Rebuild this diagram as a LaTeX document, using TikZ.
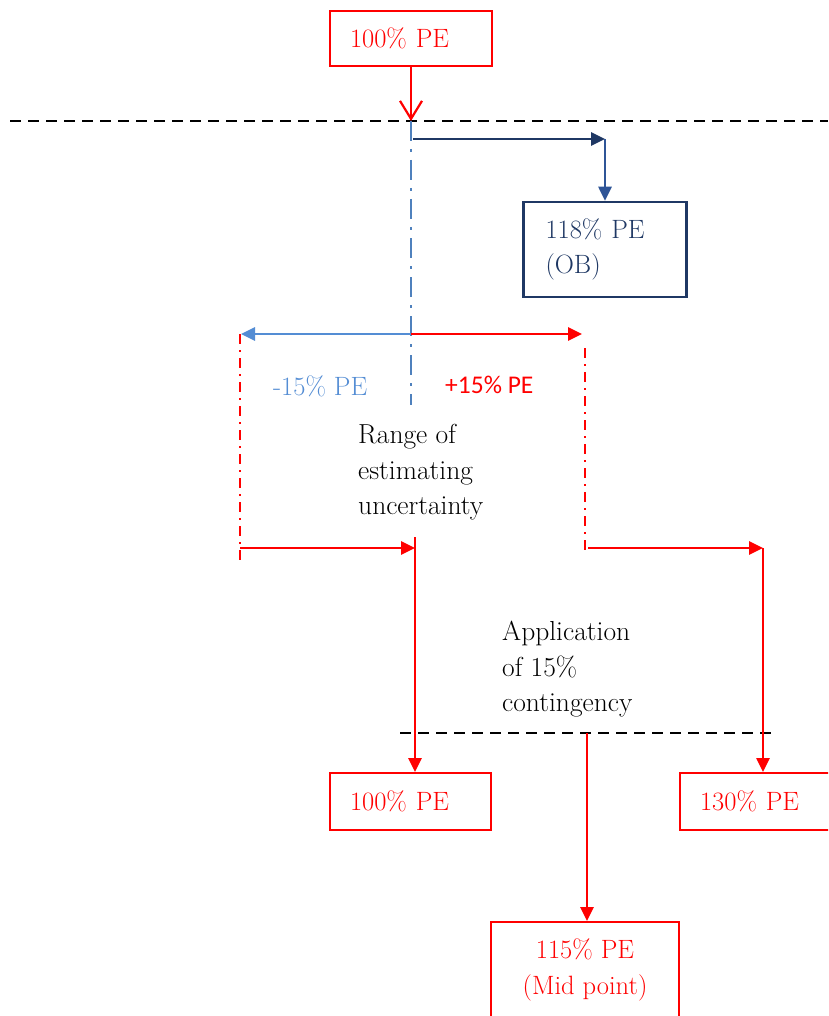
\documentclass[tikz,border=0pt]{standalone}
\usepackage{fontspec}
\newfontfamily\calib{Carlito}
\usetikzlibrary{arrows.meta}
\definecolor{pered}{RGB}{255,0,0}
\definecolor{obnavy}{RGB}{31,56,100}
\definecolor{obblue}{RGB}{47,85,151}
\definecolor{rangeblue}{RGB}{84,141,212}
\definecolor{axisblue}{RGB}{79,129,189}
\tikzset{
  lbl/.style={font=\fontsize{26.5}{35.5}\selectfont, inner sep=0pt},
  note/.style={font=\fontsize{27.5}{35.5}\selectfont, inner sep=0pt, align=left, anchor=north west},
  pebox/.style={draw=pered, line width=2pt, text=pered, lbl, align=left},
  obbox/.style={draw=obnavy, line width=2.5pt, text=obnavy, lbl, align=left},
  tri/.style={-{Triangle[length=14pt,width=13pt]}},
  redarrow/.style={draw=pered, line width=2.6pt, tri},
  guide/.style={draw=black, line width=2.5pt, dash pattern=on 11pt off 7pt},
  axis/.style={draw=axisblue, line width=2pt, dash pattern=on 20pt off 8pt on 3pt off 8pt},
  bound/.style={draw=pered, line width=1.5pt, dash pattern=on 10pt off 6pt on 2pt off 6pt},
}
\begin{document}
\begin{tikzpicture}[x=1pt,y=-1pt]
\path[use as bounding box, fill=white] (0,0) rectangle (828,1016);
\clip (0,0) rectangle (828,1016);

% boxes
\node[pebox, text width=122pt, inner xsep=20pt, minimum height=55pt] (start) at (411,38.5) {100\% PE};
\node[obbox, text width=119pt, inner xsep=22pt, minimum height=95pt] (ob) at (605,249.5) {118\% PE\\(OB)};
\node[pebox, text width=121pt, inner xsep=20pt, minimum height=57pt] (low) at (410.5,801.5) {100\% PE};
\node[pebox, text width=130pt, inner xsep=20pt, minimum height=57pt] (high) at (765,801.5) {130\% PE};
\node[pebox, align=center, minimum width=188pt, minimum height=96pt] (mid) at (585,970) {115\% PE\\(Mid point)};

% free labels
\node[lbl, text=rangeblue, anchor=base west] (minus) at (273,395) {-15\% PE};
\node[inner sep=0pt, text=pered, anchor=base west, font=\calib\fontsize{25.5}{30}\selectfont] (plus) at (445,393) {+15\% PE};
\node[note] (range) at (358,424) {Range of\\estimating\\uncertainty};
\node[note] (cont) at (502,621) {Application\\of 15\%\\contingency};

% reference points
\coordinate (split) at (411,121);
\coordinate (g1a) at (10,121);
\coordinate (g1b) at (828,121);
\coordinate (axisend) at (411,405);
\coordinate (obstart) at (413,139);
\coordinate (obturn) at (605,139);
\coordinate (rc) at (411,334);
\coordinate (rl) at (241,334);
\coordinate (rr) at (582,334);
\coordinate (bl1) at (240,334);
\coordinate (bl2) at (240,560);
\coordinate (br1) at (585,348);
\coordinate (br2) at (585,552);
\coordinate (la) at (240,548);
\coordinate (lb) at (415,548);
\coordinate (lv) at (415,537);
\coordinate (ra) at (588,548);
\coordinate (rb) at (763,548);
\coordinate (g2a) at (400,733);
\coordinate (g2b) at (775,733);
\coordinate (mv) at (587,733);

% guides and bounds
\draw[guide] (g1a) -- (g1b);
\draw[guide] (g2a) -- (g2b);
\draw[axis] (split) -- (axisend);
\draw[bound] (bl1) -- (bl2);
\draw[bound] (br1) -- (br2);

% connectors
\draw[draw=pered, line width=2.2pt, -{Straight Barb[length=18pt,width=22pt]}] (start.south) -- (split);
\draw[draw=obnavy, line width=2.6pt, tri] (obstart) -- (obturn);
\draw[draw=obblue, line width=2.6pt, tri] (obturn) -- (ob.north);
\draw[draw=rangeblue, line width=2.6pt, tri] (rc) -- (rl);
\draw[redarrow] (rc) -- (rr);
\draw[redarrow] (la) -- (lb);
\draw[redarrow] (lv) -- (lv |- low.north);
\draw[redarrow] (ra) -- (rb);
\draw[redarrow] (rb) -- (rb |- high.north);
\draw[redarrow] (mv) -- (mv |- mid.north);
\end{tikzpicture}
\end{document}
